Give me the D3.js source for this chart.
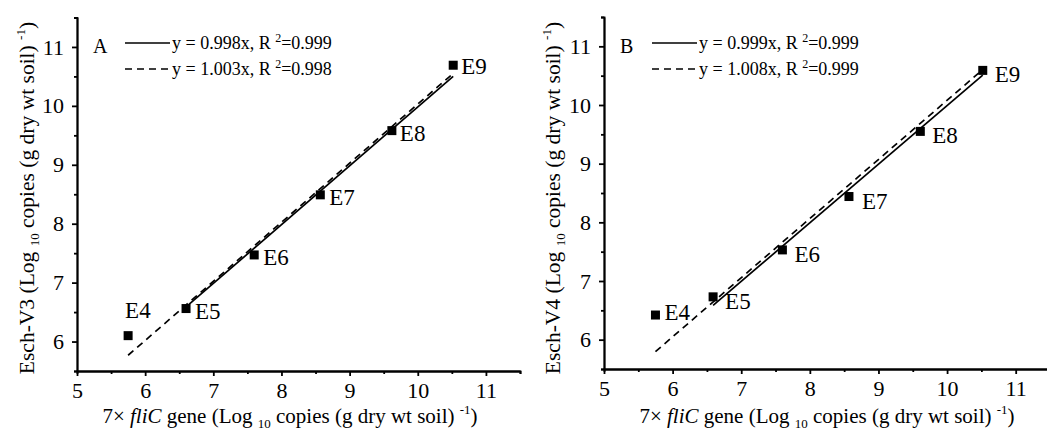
<!DOCTYPE html>
<html>
<head>
<meta charset="utf-8">
<script src="https://cdn.jsdelivr.net/npm/d3@7"></script>
<style>
  body { margin: 0; background: #fff; }
  svg text { font-family: "Liberation Serif", "Times New Roman", Times, "DejaVu Serif", serif; fill: #000; }
  .axis path, .axis line { stroke: #000; stroke-width: 1.8; }
  .axis text { font-size: 22px; }
</style>
</head>
<body>
<svg class="chart"></svg>
<script>
// data
const samples = ["E4", "E5", "E6", "E7", "E8", "E9"];

// panel A: 7x fliC vs Esch-V3
const fliA = [5.75, 6.6, 7.6, 8.57, 9.62, 10.52];
const v3 = [6.1, 6.56, 7.47, 8.49, 9.58, 10.69];
// panel B: 7x fliC vs Esch-V4
const fliB = [5.75, 6.59, 7.6, 8.57, 9.61, 10.52];
const v4 = [6.42, 6.73, 7.53, 8.44, 9.55, 10.59];

// fitted slopes (solid = E5..E9, dashed = E4..E9)
const slopesA = [0.998, 1.003];
const slopesB = [0.999, 1.008];
const r2A = ["0.999", "0.998"];
const r2B = ["0.999", "0.999"];

const majorTicks = [5, 6, 7, 8, 9, 10, 11];
const minorX = [5.5, 6.5, 7.5, 8.5, 9.5, 10.5, 11.5];
const majorY = [6, 7, 8, 9, 10, 11];
const minorY = [5.5, 6.5, 7.5, 8.5, 9.5, 10.5, 11.5];

const width = 1047,
      height = 433;

const chart = d3.select(".chart")
  .attr("width", width)
  .attr("height", height);

// label offsets for each point [dx, dy]
const offsA = [[-3, -18], [9, 10], [9, 10], [9, 10], [8, 10], [8, 9]];
const offsB = [[9, 5], [12, 12], [12, 12], [13, 12], [12, 12], [12, 12]];

function panel(opt) {
  const x = d3.scaleLinear().domain([5, 11.5]).range([opt.left, opt.right]);
  const y = d3.scaleLinear().domain([5.5, 11.5]).range([opt.bottom, opt.top]);
  const g = chart.append("g");

  // minor ticks (no labels)
  g.append("g").attr("class", "axis")
    .attr("transform", `translate(0,${opt.bottom})`)
    .call(d3.axisBottom(x).tickValues(minorX).tickSize(3).tickFormat(""))
    .selectAll("text").remove();
  g.append("g").attr("class", "axis")
    .attr("transform", `translate(${opt.left},0)`)
    .call(d3.axisLeft(y).tickValues(minorY).tickSize(3).tickFormat(""))
    .selectAll("text").remove();

  // major ticks
  const xa = g.append("g").attr("class", "axis")
    .attr("transform", `translate(0,${opt.bottom})`)
    .call(d3.axisBottom(x).tickValues(majorTicks).tickSize(5).tickSizeOuter(0).tickPadding(6).tickFormat(d3.format("d")));
  const ya = g.append("g").attr("class", "axis")
    .attr("transform", `translate(${opt.left},0)`)
    .call(d3.axisLeft(y).tickValues(majorY).tickSize(5).tickSizeOuter(0).tickPadding(8).tickFormat(d3.format("d")));
  xa.attr("font-family", null);
  ya.attr("font-family", null);

  // fit lines
  const xs = opt.xs, ys = opt.ys;
  const solid = [xs[1], xs[5]];
  const dashed = [xs[0], xs[5]];
  g.append("line")
    .attr("x1", x(solid[0])).attr("y1", y(solid[0] * opt.slopes[0]))
    .attr("x2", x(solid[1])).attr("y2", y(solid[1] * opt.slopes[0]))
    .attr("stroke", "#000").attr("stroke-width", 1.7);
  g.append("line")
    .attr("x1", x(dashed[0])).attr("y1", y(dashed[0] * opt.slopes[1]))
    .attr("x2", x(dashed[1])).attr("y2", y(dashed[1] * opt.slopes[1]))
    .attr("stroke", "#000").attr("stroke-width", 1.7)
    .attr("stroke-dasharray", "7,5");

  // points
  g.selectAll("rect.pt")
    .data(xs)
    .enter()
    .append("rect")
      .attr("class", "pt")
      .attr("x", (d) => x(d) - 4.5)
      .attr("y", (d, i) => y(ys[i]) - 4.5)
      .attr("width", 9)
      .attr("height", 9)
      .attr("fill", "#000");

  g.selectAll("text.lbl")
    .data(samples)
    .enter()
    .append("text")
      .attr("x", (d, i) => x(xs[i]) + opt.offs[i][0])
      .attr("y", (d, i) => y(ys[i]) + opt.offs[i][1])
      .attr("font-size", 23)
      .text((d) => d);

  // panel letter and legend
  g.append("text")
    .attr("x", opt.left + 16).attr("y", 53)
    .attr("font-size", 20)
    .text(opt.letter);

  [0, 1].forEach((k) => {
    const ly = 43 + k * 26;
    const lx = opt.left + 48;
    g.append("line")
      .attr("x1", lx).attr("x2", lx + 45)
      .attr("y1", ly).attr("y2", ly)
      .attr("stroke", "#000").attr("stroke-width", 1.7)
      .attr("stroke-dasharray", k === 1 ? "7,5" : null);
    const t = g.append("text")
      .attr("x", lx + 47).attr("y", ly + 6)
      .attr("font-size", 18);
    t.append("tspan").text(`y = ${opt.slopes[k].toFixed(3)}x, R `);
    t.append("tspan").attr("font-size", 12).attr("dy", -7).text("2");
    t.append("tspan").attr("dy", 7).text(`=${opt.r2[k]}`);
  });

  // axis titles
  const xt = g.append("text")
    .attr("x", opt.xTitleX).attr("y", 423)
    .attr("text-anchor", "middle")
    .attr("font-size", 21);
  xt.append("tspan").text("7× ");
  xt.append("tspan").attr("font-style", "italic").text("fliC");
  xt.append("tspan").text(" gene (Log ");
  xt.append("tspan").attr("font-size", 13).attr("dy", 5).text("10");
  xt.append("tspan").attr("dy", -5).text(" copies (g dry wt soil) ");
  xt.append("tspan").attr("font-size", 13).attr("dy", -9).text("-1");
  xt.append("tspan").attr("dy", 9).text(")");

  const yt = g.append("text")
    .attr("transform", `translate(${opt.yTitleX},198) rotate(-90)`)
    .attr("text-anchor", "middle")
    .attr("font-size", 21.5);
  yt.append("tspan").text(`${opt.yName} (Log `);
  yt.append("tspan").attr("font-size", 13).attr("dy", 5).text("10");
  yt.append("tspan").attr("dy", -5).text(" copies (g dry wt soil) ");
  yt.append("tspan").attr("font-size", 13).attr("dy", -9).text("-1");
  yt.append("tspan").attr("dy", 9).text(")");
}

panel({ left: 77, right: 520, top: 17.5, bottom: 371, xs: fliA, ys: v3,
  slopes: slopesA, r2: r2A, offs: offsA, letter: "A",
  xTitleX: 290, yTitleX: 34, yName: "Esch-V3" });
panel({ left: 604, right: 1050, top: 17, bottom: 369, xs: fliB, ys: v4,
  slopes: slopesB, r2: r2B, offs: offsB, letter: "B",
  xTitleX: 827, yTitleX: 560, yName: "Esch-V4" });
</script>
</body>
</html>
